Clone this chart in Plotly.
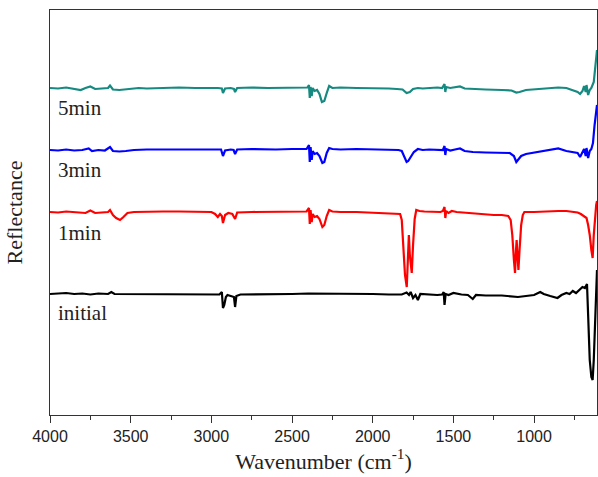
import plotly.graph_objects as go

# ---- data (wavenumber in cm^-1, offset reflectance in arbitrary units) ----
wn_5min = [4000, 3950, 3900, 3850, 3810, 3780, 3750, 3720, 3680, 3640, 3628, 3610, 3570, 3530, 3490, 3450,
           3400, 3300, 3200, 3100, 3000, 2960, 2935, 2928, 2915, 2880, 2860, 2853, 2840, 2750, 2650, 2550,
           2450, 2405, 2395, 2390, 2385, 2378, 2372, 2360, 2345, 2330, 2315, 2300, 2285, 2270, 2250, 2200,
           2100, 2000, 1900, 1850, 1815, 1790, 1770, 1750, 1720, 1690, 1650, 1600, 1570, 1555, 1550, 1545,
           1520, 1480, 1459, 1430, 1380, 1300, 1200, 1140, 1110, 1090, 1050, 1000, 950, 900, 850, 800,
           760, 730, 715, 700, 690, 680, 675, 665, 655, 645, 630, 620, 612, 610]
r_5min = [327, 326.5, 327.5, 326, 325, 327, 328.5, 326, 326.5, 327, 329.5, 325.5, 325, 325.5, 326.5, 327,
          326.5, 327, 327.5, 327, 327.5, 327, 326.5, 322, 326.5, 327, 326, 323, 327, 327.5, 327, 327.5,
          327.5, 327.5, 330, 317, 328, 319, 327, 324, 325, 321, 313, 314, 322, 329, 327, 327.5,
          327, 327, 326.5, 326, 325.5, 322, 323, 326, 327, 326.5, 327, 327.5, 327, 331, 323, 328,
          327, 327.5, 328.5, 326.5, 326, 325.5, 325, 324.5, 322.5, 323, 325, 325.5, 326.5, 327, 327.5, 327,
          325, 323, 321, 324, 329, 323, 330, 320, 325, 327, 333, 350, 362, 365]

wn_3min = [4000, 3950, 3900, 3850, 3800, 3760, 3740, 3700, 3660, 3628, 3610, 3570, 3530, 3480, 3400, 3300,
           3200, 3100, 3000, 2960, 2940, 2928, 2915, 2880, 2862, 2853, 2840, 2750, 2600, 2500, 2410, 2395,
           2390, 2385, 2378, 2372, 2360, 2345, 2330, 2312, 2300, 2285, 2270, 2250, 2200, 2100, 2000, 1900,
           1840, 1820, 1805, 1790, 1780, 1765, 1745, 1720, 1690, 1650, 1600, 1565, 1555, 1550, 1545, 1520,
           1490, 1459, 1430, 1380, 1300, 1200, 1150, 1125, 1110, 1100, 1080, 1050, 1000, 950, 900, 850,
           800, 760, 730, 715, 700, 690, 680, 675, 665, 655, 645, 635, 625, 615, 610]
r_3min = [265, 264.5, 265.5, 264.5, 265, 266.5, 264, 265, 264.5, 268, 264, 263.5, 264, 265, 265.5, 265.5,
          266, 265.5, 266, 265.5, 265.5, 259, 264.5, 265.5, 265, 261, 265.5, 266, 265.5, 266, 266, 270,
          253, 268, 255, 264, 261, 262, 259, 252, 253, 262, 267, 266, 265.5, 266, 265.5, 265.5,
          265, 264, 258, 253, 254, 258, 263, 266, 265, 265.5, 265, 265, 269, 260, 266, 264.5,
          265.5, 266.5, 264, 263, 262.5, 262.5, 262, 259, 253, 255, 259, 261, 262.5, 264, 265, 266.5,
          264, 263, 262, 258, 263, 266, 259, 267, 257, 264, 266, 272, 290, 305, 310]

wn_1min = [4000, 3950, 3900, 3850, 3780, 3750, 3720, 3680, 3640, 3628, 3610, 3590, 3566, 3545, 3520, 3480,
           3400, 3300, 3200, 3100, 3000, 2977, 2960, 2946, 2935, 2928, 2915, 2895, 2870, 2853, 2840, 2750,
           2600, 2500, 2410, 2395, 2390, 2385, 2378, 2372, 2360, 2345, 2330, 2312, 2300, 2285, 2270, 2250,
           2200, 2100, 2000, 1900, 1850, 1830, 1820, 1810, 1800, 1789, 1782, 1776, 1770, 1758, 1750, 1740,
           1730, 1710, 1680, 1620, 1580, 1565, 1555, 1550, 1545, 1530, 1510, 1480, 1440, 1400, 1350, 1300,
           1250, 1200, 1160, 1145, 1135, 1125, 1118, 1112, 1108, 1103, 1097, 1090, 1080, 1070, 1060, 1000,
           950, 900, 850, 800, 760, 730, 710, 690, 675, 665, 655, 645, 637, 630, 622, 615, 610]
r_1min = [203, 202.5, 203.5, 203, 202, 204.5, 202, 202.5, 203, 205, 200, 197, 195, 198, 202, 203,
          203.5, 203.5, 203.5, 203.5, 203, 201, 198, 201, 199, 192, 200, 202, 201, 196, 202.5, 203,
          203.5, 203.5, 203.5, 207, 191, 205, 193, 201, 198, 199, 196, 188, 190, 199, 205, 203.5,
          203, 203, 202.5, 202, 201.5, 201, 195, 170, 140, 128, 150, 180, 160, 142, 170, 196,
          205, 204, 203.5, 203, 203, 204, 208, 197, 204, 202, 204, 203, 202.5, 201.5, 201, 200.5,
          200, 200, 199, 195, 180, 155, 142, 165, 175, 160, 145, 165, 190, 200, 203, 203,
          203.5, 203.5, 204, 204, 203.5, 202.5, 201, 199, 197, 190, 180, 165, 157, 180, 200, 210, 214]

wn_init = [4000, 3950, 3900, 3850, 3800, 3750, 3700, 3640, 3620, 3600, 3500, 3400, 3300, 3200, 3100, 3000,
           2950, 2935, 2928, 2920, 2910, 2900, 2880, 2860, 2853, 2845, 2820, 2700, 2600, 2500, 2400, 2300,
           2200, 2100, 2000, 1900, 1820, 1790, 1775, 1765, 1750, 1735, 1720, 1705, 1650, 1600, 1570, 1560,
           1555, 1548, 1530, 1500, 1450, 1410, 1380, 1360, 1300, 1200, 1100, 1050, 1000, 962, 940, 900,
           855, 830, 800, 780, 760, 740, 720, 700, 685, 672, 665, 655, 645, 637, 630, 622, 612, 610]
r_init = [121, 121.5, 122, 121, 121.5, 120.5, 121.5, 121, 123, 121, 121, 120.5, 120.5, 120.5, 120.5, 120.5,
          120.5, 123, 107, 110, 118, 120, 119, 118, 108, 119, 120.5, 120.5, 120.5, 121, 121.5, 121.5,
          121.5, 121, 121, 120.5, 120.5, 122.5, 120, 123, 117, 120, 115, 121, 120.5, 120, 120.5, 123,
          110, 121, 120, 122, 120.5, 120, 116, 120, 119.5, 119.5, 118, 119, 120, 123, 121, 119,
          117, 120, 122, 121, 124, 122, 125, 128, 127, 131, 100, 55, 38, 35, 55, 100, 140, 145]

labels = ["5min", "3min", "1min", "initial"]
label_y = [307.5, 245, 182, 102]
colors = ["#168a80", "#0000ff", "#ff0000", "#000000"]

series = [(wn_5min, r_5min), (wn_3min, r_3min), (wn_1min, r_1min), (wn_init, r_init)]

fig = go.Figure()
for (x, y), name, c in zip(series, labels, colors):
    fig.add_trace(go.Scatter(x=x, y=y, mode="lines", name=name,
                             line=dict(color=c, width=2.2), showlegend=False))

for name, yy in zip(labels, label_y):
    fig.add_annotation(x=3963, y=yy, xref="x", yref="y", text=name, showarrow=False,
                       xanchor="left", yanchor="middle",
                       font=dict(family="Liberation Serif", size=21, color="#222"))

fig.update_layout(
    width=598, height=477,
    margin=dict(l=50, r=1, t=10, b=62),
    paper_bgcolor="white", plot_bgcolor="white",
)
fig.update_xaxes(
    range=[4000, 610], showgrid=False, zeroline=False,
    showline=True, mirror=True, linecolor="#333", linewidth=1.3,
    ticks="outside", ticklen=7, tickwidth=1.3, tickcolor="#333",
    tick0=0, dtick=500,
    minor=dict(ticks="outside", ticklen=4, tickwidth=1.3, tickcolor="#333", tick0=0, dtick=250),
    tickfont=dict(family="Liberation Sans", size=16, color="#222"),
    title=dict(text="Wavenumber (cm<sup>-1</sup>)", standoff=1,
               font=dict(family="Liberation Serif", size=22, color="#222")),
)
fig.update_yaxes(
    range=[0, 405], showgrid=False, zeroline=False,
    showline=True, mirror=True, linecolor="#333", linewidth=1.3,
    ticks="", showticklabels=False,
    title=dict(text="Reflectance", standoff=20,
               font=dict(family="Liberation Serif", size=22, color="#222")),
)

fig.write_html("out.html")
